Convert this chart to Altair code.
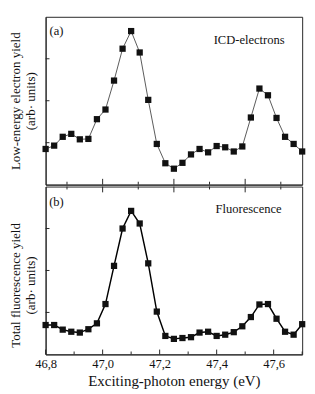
import altair as alt
import pandas as pd

# ---- data ----
energy = [46.80, 46.83, 46.86, 46.89, 46.92, 46.95, 46.98, 47.01, 47.04, 47.07,
          47.10, 47.13, 47.16, 47.19, 47.22, 47.25, 47.28, 47.31, 47.34, 47.37,
          47.40, 47.43, 47.46, 47.49, 47.52, 47.55, 47.58, 47.61, 47.64, 47.67, 47.70]

icd = [0.85, 0.93, 1.14, 1.21, 1.08, 1.09, 1.56, 1.79, 2.48, 3.24,
       3.66, 3.15, 2.02, 0.97, 0.51, 0.38, 0.52, 0.72, 0.85, 0.77,
       0.92, 0.89, 0.79, 0.91, 1.60, 2.29, 2.13, 1.59, 1.14, 0.97, 0.79]

fluo = [0.70, 0.70, 0.59, 0.54, 0.52, 0.60, 0.74, 1.20, 2.11, 3.00,
        3.42, 3.12, 2.17, 1.02, 0.44, 0.37, 0.39, 0.41, 0.52, 0.54,
        0.44, 0.47, 0.53, 0.67, 0.89, 1.19, 1.20, 0.85, 0.54, 0.47, 0.72]

x_label_values = [46.8, 47.0, 47.2, 47.4, 47.6]
bottom_major = [46.8, 47.0, 47.2, 47.4, 47.6]
bottom_minor = [46.9, 47.1, 47.3, 47.5, 47.7]
mid_major = [47.0, 47.25, 47.5]
mid_minor = [46.875, 47.125, 47.375, 47.625]
y_tick_values = [1, 2, 3]

top_title = ["Low-energy electron yield", "(arb· units)"]
bottom_title = ["Total fluorescence yield", "(arb· units)"]
x_title = "Exciting-photon energy (eV)"

top_notes = pd.DataFrame({"x": [46.838, 47.514], "y": [3.66, 3.44], "label": ["(a)", "ICD-electrons"]})
bottom_notes = pd.DataFrame({"x": [46.838, 47.512], "y": [3.62, 3.46], "label": ["(b)", "Fluorescence"]})

# ---- layout / style ----
W, H = 266, 174
FONT = "Liberation Serif"
FRAME = "#222222"

xscale = alt.Scale(domain=[46.8, 47.7], nice=False, zero=False)
yscale = alt.Scale(domain=[0, 4], nice=False, zero=False)


def yaxis(title, title_y=None):
    kw = dict(labels=False, ticks=False, grid=False, title=title, titleFont=FONT,
              titleFontSize=13.5, titleFontWeight="normal", titleLineHeight=16,
              titlePadding=8, titleColor="#111", domainColor=FRAME)
    if title_y is not None:
        kw["titleY"] = title_y
    return alt.Axis(**kw)


def xticks(values, y0, y1):
    df = pd.DataFrame({"x": values})
    return alt.Chart(df).mark_rule(color=FRAME, strokeWidth=1).encode(
        x=alt.X("x:Q", scale=xscale), y=alt.value(y0), y2=alt.value(y1))


def yticks():
    df = pd.DataFrame({"y": y_tick_values})
    return alt.Chart(df).mark_rule(color=FRAME, strokeWidth=1).encode(
        y=alt.Y("y:Q", scale=yscale), x=alt.value(0), x2=alt.value(4))


def notes(df):
    return alt.Chart(df).mark_text(font=FONT, fontSize=13, color="#111", align="center",
                                   baseline="middle").encode(
        x=alt.X("x:Q", scale=xscale), y=alt.Y("y:Q", scale=yscale), text="label:N")


# top panel
df_top = pd.DataFrame({"x": energy, "y": icd})
top_line = alt.Chart(df_top).mark_line(color="#555555", strokeWidth=1).encode(
    x=alt.X("x:Q", scale=xscale,
            axis=alt.Axis(labels=False, ticks=False, grid=False, title=None, domainColor=FRAME)),
    y=alt.Y("y:Q", scale=yscale, axis=yaxis(top_title)))
top_pts = alt.Chart(df_top).mark_point(shape="square", filled=True, size=42, color="#111",
                                       opacity=1).encode(x=alt.X("x:Q", scale=xscale),
                                                         y=alt.Y("y:Q", scale=yscale))
top = alt.layer(top_line, top_pts, xticks(mid_major, H, H - 6), xticks(mid_minor, H, H - 3),
                yticks(), notes(top_notes)).properties(width=W, height=H)

# bottom panel
df_bot = pd.DataFrame({"x": energy, "y": fluo})
bot_line = alt.Chart(df_bot).mark_line(color="#000000", strokeWidth=1.5).encode(
    x=alt.X("x:Q", scale=xscale,
            axis=alt.Axis(values=x_label_values, ticks=False, grid=False,
                          labelExpr="replace(format(datum.value, '.1f'), '.', ',')",
                          labelFont=FONT, labelFontSize=13, labelColor="#111", labelPadding=4,
                          labelFlush=False, labelOverlap=False,
                          title=x_title, titleFont=FONT, titleFontSize=15.5,
                          titleFontWeight="normal", titleColor="#111", titlePadding=3,
                          domainColor=FRAME)),
    y=alt.Y("y:Q", scale=yscale, axis=yaxis(bottom_title, title_y=102)))
bot_pts = alt.Chart(df_bot).mark_point(shape="square", filled=True, size=42, color="#111",
                                       opacity=1).encode(x=alt.X("x:Q", scale=xscale),
                                                         y=alt.Y("y:Q", scale=yscale))
bottom = alt.layer(bot_line, bot_pts,
                   xticks(bottom_major, H, H - 5), xticks(bottom_minor, H, H - 3),
                   xticks(mid_major, 0, 6), xticks(mid_minor, 0, 3),
                   yticks(), notes(bottom_notes)).properties(width=W, height=H)

chart = alt.vconcat(top, bottom, spacing=0).properties(
    padding={"left": 0, "top": 1, "right": 1, "bottom": 0}
).configure_view(stroke=FRAME, strokeWidth=1).configure_axis(grid=False)

chart.save("out.html", embed_options={"renderer": "svg", "actions": False})
